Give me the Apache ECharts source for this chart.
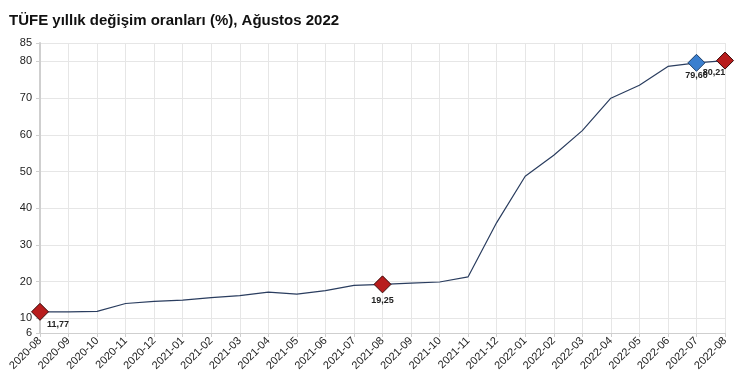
<!DOCTYPE html>
<html><head><meta charset="utf-8">
<script src="https://cdn.jsdelivr.net/npm/echarts@6/dist/echarts.min.js"></script>
<style>html,body{margin:0;padding:0;background:#fff}#c{width:750px;height:390px}</style>
</head><body><div id="c"></div>
<script>
const categories = ['2020-08','2020-09','2020-10','2020-11','2020-12','2021-01','2021-02','2021-03','2021-04','2021-05','2021-06','2021-07','2021-08','2021-09','2021-10','2021-11','2021-12','2022-01','2022-02','2022-03','2022-04','2022-05','2022-06','2022-07','2022-08'];
const values = [11.77,11.75,11.89,14.03,14.60,14.97,15.61,16.19,17.14,16.59,17.53,18.95,19.25,19.58,19.89,21.31,36.08,48.69,54.44,61.14,69.97,73.50,78.62,79.60,80.21];
const yTicks = [6,10,20,30,40,50,60,70,80,85];
const redIdx = [0,12,24];
const blueIdx = [23];
const titleText = 'TÜFE yıllık değişim oranları (%), Ağustos 2022';

const fmt = v => v.toFixed(2).replace('.', ',');
const data = values.map((v,i)=>{
  const o = {value:v};
  if (redIdx.includes(i) || blueIdx.includes(i)) {
    const red = redIdx.includes(i);
    o.symbol = 'diamond';
    o.symbolSize = 17;
    o.itemStyle = {color: red ? '#b81d1d' : '#3a7fcf', borderColor: red ? '#3a0a0a' : '#1d3d66', borderWidth: 1};
    let lab = {show:true, position:'bottom', formatter: fmt(v), fontSize:9, fontWeight:'bold', color:'#222', distance:3, fontFamily:'Liberation Sans'};
    if (i===0) { lab.position='right'; lab.offset=[-5,13]; }
    if (i===23) { lab.offset=[0,-4]; }
    if (i===24) { lab.offset=[-11,-5]; }
    o.label = lab;
  }
  return o;
});

const chart = echarts.init(document.getElementById('c'), null, {renderer:'canvas'});
chart.setOption({
  animation:false,
  title:{text:titleText, left:4, top:8, textStyle:{fontSize:15, fontWeight:'bold', color:'#111', fontFamily:'Liberation Sans'}},
  grid:{left:40, right:25, top:43, bottom:57},
  xAxis:{type:'category', data:categories, boundaryGap:false,
    axisLine:{lineStyle:{color:'#cfcfcf'}}, axisTick:{show:true, lineStyle:{color:'#cfcfcf'}, length:4},
    axisLabel:{rotate:45, fontSize:11, color:'#222', interval:0, margin:6, fontFamily:'Liberation Sans'},
    splitLine:{show:true, lineStyle:{color:'#e6e6e6'}}},
  yAxis:{type:'value', min:6, max:85,
    axisLine:{show:true, lineStyle:{color:'#cfcfcf', width:2}},
    axisTick:{show:true, customValues:yTicks, length:4, lineStyle:{color:'#cfcfcf'}},
    axisLabel:{customValues:yTicks, fontSize:11, color:'#222', margin:8, fontFamily:'Liberation Sans'},
    splitLine:{show:true, lineStyle:{color:'#e6e6e6'}}},
  series:[{type:'line', data:data, showSymbol:true, symbol:'none', lineStyle:{color:'#2a3d5f', width:1.2}, z:3}]
});
</script></body></html>
